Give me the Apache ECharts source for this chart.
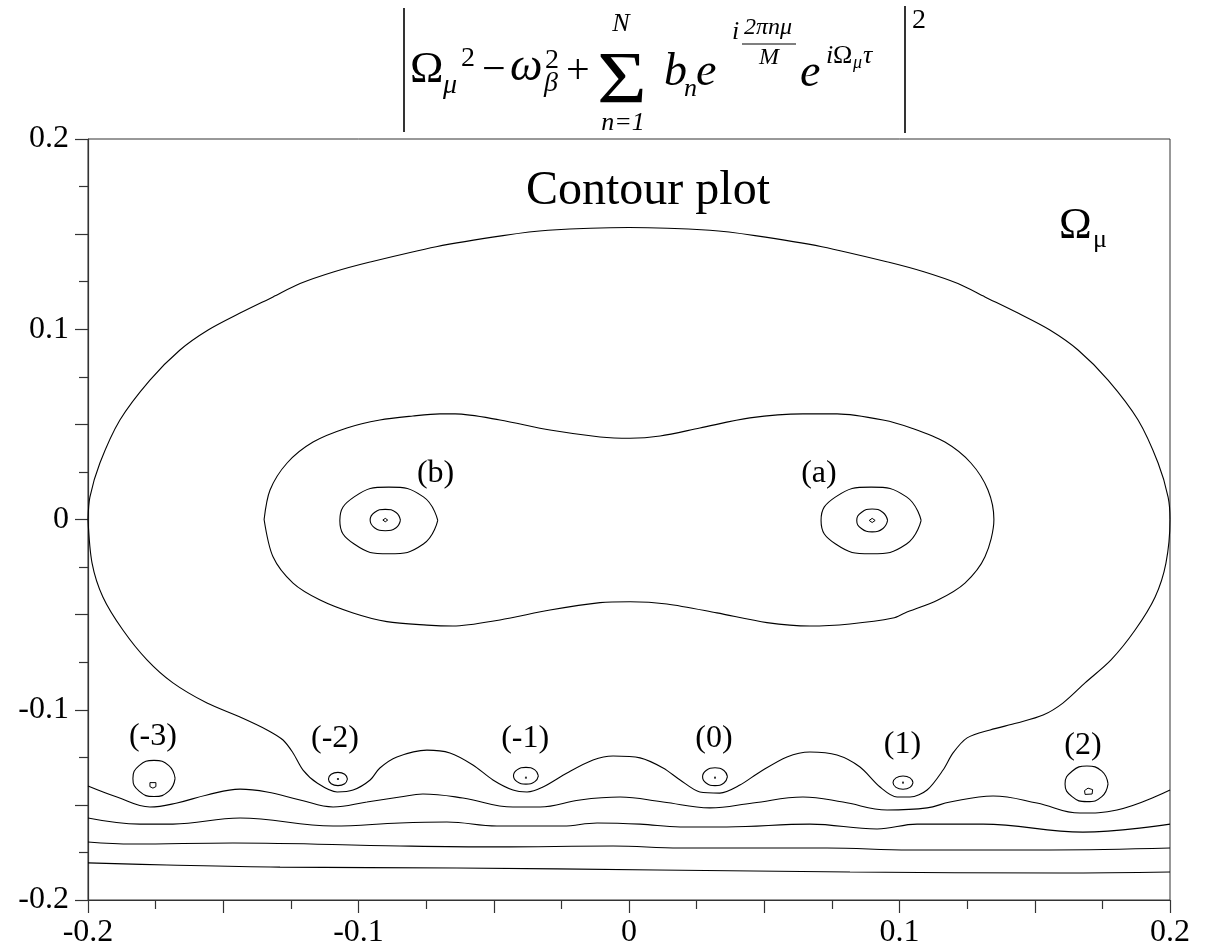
<!DOCTYPE html>
<html>
<head>
<meta charset="utf-8">
<script src="https://cdn.jsdelivr.net/npm/echarts@6/dist/echarts.min.js"></script>
<style>
html,body{margin:0;padding:0;background:#fff;}
#chart{width:1209px;height:949px;}
</style>
</head>
<body>
<div id="chart"></div>
<script>
// ---- axis ticks ----
const xTickValues = [-0.2, -0.1, 0, 0.1, 0.2];
const xTickLabels = ['-0.2', '-0.1', '0', '0.1', '0.2'];
const yTickValues = [-0.2, -0.1, 0, 0.1, 0.2];
const yTickLabels = ['-0.2', '-0.1', '0', '0.1', '0.2'];

// ---- contour lines [x, y] ----
const outerContour = [
[-0.2,0],[-0.1993,0.0118],[-0.1956,0.0297],[-0.1882,0.0523],[-0.1771,0.0733],[-0.1660,0.0891],
[-0.1556,0.0996],[-0.1438,0.1085],[-0.1316,0.1170],[-0.1216,0.1240],[-0.1090,0.1302],[-0.0961,0.1352],[-0.0713,0.1434],
[-0.0466,0.1492],[-0.0299,0.1520],[0,0.1535],[0.0299,0.1520],[0.0466,0.1492],[0.0713,0.1434],
[0.0961,0.1352],[0.1090,0.1302],[0.1216,0.1240],[0.1316,0.1170],[0.1438,0.1085],[0.1556,0.0996],[0.1660,0.0891],
[0.1771,0.0733],[0.1882,0.0523],[0.1956,0.0297],[0.1993,0.0118],[0.2,0],
[0.1985,-0.0229],[0.1945,-0.0407],[0.1871,-0.0581],[0.1782,-0.0738],[0.1686,-0.0859],[0.1604,-0.0965],
[0.1531,-0.1028],[0.1434,-0.1070],[0.1335,-0.1106],[0.1250,-0.1148],[0.1198,-0.1227],[0.1161,-0.1317],
[0.1102,-0.1422],[0.1039,-0.1459],[0.0991,-0.1459],[0.0928,-0.1406],[0.0854,-0.1301],[0.0769,-0.1238],
[0.0669,-0.1222],[0.0584,-0.1248],[0.0484,-0.1327],[0.0410,-0.1396],[0.0336,-0.1438],[0.0262,-0.1432],
[0.0189,-0.1369],[0.0126,-0.1306],[0.0041,-0.1253],[-0.0059,-0.1243],[-0.0133,-0.1264],[-0.0229,-0.1332],
[-0.0318,-0.1406],[-0.0377,-0.1432],[-0.0429,-0.1422],[-0.0503,-0.1369],[-0.0577,-0.1290],[-0.0662,-0.1227],
[-0.0747,-0.1212],[-0.0858,-0.1248],[-0.0921,-0.1306],[-0.0957,-0.1369],[-0.1020,-0.1422],[-0.1079,-0.1432],
[-0.1153,-0.1385],[-0.1205,-0.1317],[-0.1242,-0.1227],[-0.1279,-0.1159],[-0.1338,-0.1106],[-0.1438,-0.1038],
[-0.1560,-0.0965],[-0.1686,-0.0859],[-0.1782,-0.0738],[-0.1871,-0.0581],[-0.1945,-0.0407],[-0.1985,-0.0229],
[-0.2,0]
];
const peanutContour = [
[-0.1349,0],[-0.1327,0.0155],[-0.1264,0.0297],[-0.1168,0.0407],[-0.1043,0.0481],[-0.0921,0.0523],
[-0.0799,0.0544],[-0.0699,0.0555],[-0.0643,0.0555],[-0.0477,0.0523],[-0.0292,0.0470],[-0.0107,0.0434],
[0.0004,0.0427],[0.0115,0.0439],[0.0262,0.0481],[0.0447,0.0534],[0.0643,0.0555],[0.0769,0.0555],
[0.0939,0.0523],[0.1043,0.0481],[0.1168,0.0407],[0.1264,0.0297],[0.1327,0.0155],[0.1349,0],
[0.1316,-0.0196],[0.1242,-0.0334],[0.1142,-0.0423],[0.1020,-0.0491],[0.0976,-0.0518],[0.0817,-0.0549],
[0.0669,-0.0560],[0.0510,-0.0542],[0.0325,-0.0491],[0.0140,-0.0444],[0.0004,-0.0432],[-0.0107,-0.0437],
[-0.0292,-0.0476],[-0.0477,-0.0528],[-0.0651,-0.0560],[-0.0747,-0.0555],[-0.0895,-0.0537],[-0.1020,-0.0491],
[-0.1142,-0.0423],[-0.1242,-0.0334],[-0.1316,-0.0196],[-0.1349,0]
];
const lowLine2 = [
[-0.2,-0.1401],[-0.1893,-0.1459],[-0.1771,-0.1511],[-0.1671,-0.1490],[-0.1560,-0.1448],[-0.1438,-0.1417],
[-0.1338,-0.1432],[-0.1216,-0.1474],[-0.1094,-0.1511],[-0.0969,-0.1485],[-0.0847,-0.1459],[-0.0762,-0.1443],
[-0.0614,-0.1464],[-0.0429,-0.1511],[-0.0329,-0.1511],[-0.0181,-0.1474],[-0.0033,-0.1459],[0.0126,-0.1485],
[0.0299,-0.1516],[0.0458,-0.1490],[0.0643,-0.1459],[0.0791,-0.1485],[0.0954,-0.1527],[0.1102,-0.1516],
[0.1187,-0.1485],[0.1346,-0.1453],[0.1508,-0.1490],[0.1667,-0.1543],[0.1804,-0.1527],[0.2,-0.1422]
];
const lowLine3 = [
[-0.2,-0.1569],[-0.1808,-0.1601],[-0.1686,-0.1601],[-0.1438,-0.1569],[-0.1094,-0.1611],[-0.0847,-0.1595],
[-0.0673,-0.1590],[-0.0488,-0.1611],[-0.0244,-0.1611],[-0.0118,-0.1595],[0.0041,-0.1601],[0.0189,-0.1616],
[0.0362,-0.1616],[0.0669,-0.1601],[0.0917,-0.1627],[0.1065,-0.1601],[0.1309,-0.1601],[0.1678,-0.1643],
[0.2,-0.1601]
];
const lowLine4 = [
[-0.2,-0.1695],[-0.1834,-0.1706],[-0.1464,-0.1700],[-0.0847,-0.1716],[-0.0488,-0.1721],[-0.0059,-0.1716],
[0.0189,-0.1727],[0.0484,-0.1727],[0.0732,-0.1727],[0.1039,-0.1737],[0.1556,-0.1737],[0.2,-0.1727]
];
const lowLine5 = [
[-0.2,-0.1805],[-0.1708,-0.1816],[-0.1290,-0.1827],[-0.0636,-0.1832],[0.0104,-0.1842],[0.0817,-0.1853],
[0.1593,-0.1858],[0.2,-0.1853]
];
// closed rings around minima
const ringBMid = [[-0.0707,-0.0005],[-0.0760,0.0119],[-0.0888,0.0170],[-0.1016,0.0119],[-0.1069,-0.0005],[-0.1016,-0.0129],[-0.0888,-0.0180],[-0.0760,-0.0129],[-0.0707,-0.0005]];
const ringBIn = [[-0.0845,-0.0003],[-0.0861,0.0037],[-0.0901,0.0053],[-0.0941,0.0037],[-0.0957,-0.0003],[-0.0941,-0.0043],[-0.0901,-0.0059],[-0.0861,-0.0043],[-0.0845,-0.0003]];
const ringBDot = [[-0.0892,-0.0003],[-0.0901,0.0006],[-0.0910,-0.0003],[-0.0901,-0.0012],[-0.0892,-0.0003]];
const ringAMid = [[0.1080,-0.0005],[0.1026,0.0119],[0.0895,0.0170],[0.0764,0.0119],[0.0710,-0.0005],[0.0764,-0.0129],[0.0895,-0.0180],[0.1026,-0.0129],[0.1080,-0.0005]];
const ringAIn = [[0.0956,-0.0005],[0.0939,0.0037],[0.0899,0.0055],[0.0859,0.0037],[0.0842,-0.0005],[0.0859,-0.0047],[0.0899,-0.0065],[0.0939,-0.0047],[0.0956,-0.0005]];
const ringADot = [[0.0910,-0.0005],[0.0899,0.0006],[0.0888,-0.0005],[0.0899,-0.0016],[0.0910,-0.0005]];
const ringM3 = [[-0.1678,-0.1361],[-0.1701,-0.1294],[-0.1756,-0.1266],[-0.1811,-0.1294],[-0.1834,-0.1361],[-0.1811,-0.1428],[-0.1756,-0.1456],[-0.1701,-0.1428],[-0.1678,-0.1361]];
const ringM3In = [[-0.1771,-0.1383],[-0.1749,-0.1383],[-0.1749,-0.1404],[-0.1760,-0.1412],[-0.1771,-0.1404],[-0.1771,-0.1383]];
const ringM2 = [[-0.1041,-0.1364],[-0.1051,-0.1339],[-0.1076,-0.1329],[-0.1101,-0.1339],[-0.1111,-0.1364],[-0.1101,-0.1389],[-0.1076,-0.1399],[-0.1051,-0.1389],[-0.1041,-0.1364]];
const ringM1 = [[-0.0335,-0.1347],[-0.0348,-0.1316],[-0.0381,-0.1303],[-0.0414,-0.1316],[-0.0427,-0.1347],[-0.0414,-0.1378],[-0.0381,-0.1391],[-0.0348,-0.1378],[-0.0335,-0.1347]];
const ringZero = [[0.0364,-0.1352],[0.0351,-0.1319],[0.0318,-0.1305],[0.0285,-0.1319],[0.0272,-0.1352],[0.0285,-0.1385],[0.0318,-0.1399],[0.0351,-0.1385],[0.0364,-0.1352]];
const ringP1 = [[0.1050,-0.1383],[0.1039,-0.1358],[0.1013,-0.1348],[0.0987,-0.1358],[0.0976,-0.1383],[0.0987,-0.1408],[0.1013,-0.1418],[0.1039,-0.1408],[0.1050,-0.1383]];
const ringP2 = [[0.1771,-0.1390],[0.1748,-0.1323],[0.1693,-0.1296],[0.1638,-0.1323],[0.1612,-0.1390],[0.1638,-0.1457],[0.1693,-0.1483],[0.1748,-0.1457],[0.1771,-0.1390]];
const ringP2In = [[0.1684,-0.1425],[0.1697,-0.1412],[0.1714,-0.1420],[0.1712,-0.1443],[0.1686,-0.1445],[0.1684,-0.1425]];
// tiny centre dots
const dotPoints = [[-0.1076,-0.1364],[-0.0381,-0.1357],[0.0318,-0.1357],[0.1013,-0.1383]];

// ---- annotations ----
const annotText = ['(b)', '(a)', '(-3)', '(-2)', '(-1)', '(0)', '(1)', '(2)'];
const annotX = [-0.0715, 0.0702, -0.1760, -0.1087, -0.0384, 0.0314, 0.1011, 0.1678];
const annotY = [0.0239, 0.0241, -0.1143, -0.1154, -0.1154, -0.1154, -0.1182, -0.1191];

const SERIF = '"Liberation Serif", "DejaVu Serif", serif';
const chart = echarts.init(document.getElementById('chart'));

function lineSeries(name, data, smooth, width) {
  return {
    name: name, type: 'line', data: data, showSymbol: false, symbol: 'none',
    smooth: smooth, clip: false, silent: true,
    lineStyle: { color: '#000', width: width || 1.1 }
  };
}
function tickFmt(vals, labels) {
  return function (v) {
    for (let i = 0; i < vals.length; i++) if (Math.abs(vals[i] - v) < 1e-9) return labels[i];
    return '';
  };
}

// text pieces (graphic text)
function t(text, x, y, size, italic, align, extra) {
  return Object.assign({
    type: 'text', x: x, y: y, silent: true,
    style: { text: text, fill: '#000', font: (italic ? 'italic ' : '') + size + 'px ' + SERIF,
             align: align || 'left', verticalAlign: 'middle' }
  }, extra || {});
}
const graphics = [
  { type: 'line', shape: { x1: 404, y1: 8, x2: 404, y2: 132 }, style: { stroke: '#000', lineWidth: 1.6 } },
  t('Ω', 410, 70, 45, false),
  t('μ', 443, 86, 28, true),
  t('2', 461, 59, 28, false),
  t('−', 482, 71, 42, false),
  t('ω', 510, 68, 46, true),
  t('2', 545, 61, 28, false),
  t('β', 544, 84, 28, true),
  t('+', 566, 72, 42, false),
  t('Σ', 597, 84, 73, false, 'left', { scaleX: 1.17, scaleY: 1 }),
  t('N', 621, 24, 26, true, 'center'),
  t('n=1', 623, 123, 26, true, 'center'),
  t('b', 664, 73, 46, true),
  t('n', 684, 89, 26, true),
  t('e', 696, 73, 46, true),
  t('i', 732, 32, 26, true),
  t('2πnμ', 744, 28, 24, true),
  { type: 'line', shape: { x1: 742, y1: 44, x2: 796, y2: 44 }, style: { stroke: '#000', lineWidth: 1.2 } },
  t('M', 769, 58, 24, true, 'center'),
  t('e', 800, 74, 46, true),
  t('i', 826, 56, 26, true),
  t('Ω', 833, 56, 26, false),
  t('μ', 853, 63, 18, true),
  t('τ', 863, 56, 26, true),
  { type: 'line', shape: { x1: 905, y1: 6, x2: 905, y2: 133 }, style: { stroke: '#000', lineWidth: 1.6 } },
  t('2', 912, 21, 28, false),
  // chart title and corner label
  t('Contour plot', 648, 191, 48, false, 'center'),
  t('Ω', 1059, 226, 44, false),
  t('μ', 1093, 240, 26, false)
];

const series = [
  lineSeries('outer', outerContour, 0.3),
  lineSeries('peanut', peanutContour, 0.3),
  lineSeries('low2', lowLine2, 0.4),
  lineSeries('low3', lowLine3, 0.4),
  lineSeries('low4', lowLine4, 0.4),
  lineSeries('low5', lowLine5, 0.4),
  lineSeries('ringBMid', ringBMid, 0.5),
  lineSeries('ringBIn', ringBIn, 0.5),
  lineSeries('ringBDot', ringBDot, 0, 1),
  lineSeries('ringAMid', ringAMid, 0.5),
  lineSeries('ringAIn', ringAIn, 0.5),
  lineSeries('ringADot', ringADot, 0, 1),
  lineSeries('ringM3', ringM3, 0.5),
  lineSeries('ringM3In', ringM3In, 0, 1),
  lineSeries('ringM2', ringM2, 0.5),
  lineSeries('ringM1', ringM1, 0.5),
  lineSeries('ringZero', ringZero, 0.5),
  lineSeries('ringP1', ringP1, 0.5),
  lineSeries('ringP2', ringP2, 0.5),
  lineSeries('ringP2In', ringP2In, 0, 1),
  {
    name: 'dots', type: 'scatter', data: dotPoints, symbol: 'rect', symbolSize: 2, silent: true,
    itemStyle: { color: '#000' }
  }
];

chart.setOption({
  animation: false,
  backgroundColor: '#fff',
  grid: { left: 88, right: 39, top: 139, bottom: 49, show: true, borderColor: '#333', borderWidth: 1, backgroundColor: 'transparent' },
  xAxis: {
    type: 'value', min: -0.2, max: 0.2, interval: 0.05,
    axisLine: { show: true, onZero: false, lineStyle: { color: '#333', width: 1.2 } },
    axisTick: { show: true, length: 13, lineStyle: { color: '#333', width: 1.2 } },
    minorTick: { show: true, splitNumber: 2, length: 9, lineStyle: { color: '#333', width: 1.2 } },
    splitLine: { show: false },
    axisLabel: { formatter: tickFmt(xTickValues, xTickLabels), color: '#000', fontSize: 32, fontFamily: SERIF, margin: 17, showMinLabel: true, showMaxLabel: true }
  },
  yAxis: {
    type: 'value', min: -0.2, max: 0.2, interval: 0.05,
    axisLine: { show: true, onZero: false, lineStyle: { color: '#333', width: 1.2 } },
    axisTick: { show: true, length: 13, lineStyle: { color: '#333', width: 1.2 } },
    minorTick: { show: true, splitNumber: 2, length: 9, lineStyle: { color: '#333', width: 1.2 } },
    splitLine: { show: false },
    axisLabel: { formatter: tickFmt(yTickValues, yTickLabels), color: '#000', fontSize: 32, fontFamily: SERIF, margin: 19, showMinLabel: true, showMaxLabel: true }
  },
  series: series
});

// annotation labels placed through the chart's own scales
const labelGraphics = annotText.map(function (s, i) {
  const p = chart.convertToPixel({ gridIndex: 0 }, [annotX[i], annotY[i]]);
  return t(s, p[0], p[1], 32, false, 'center');
});
chart.setOption({ graphic: graphics.concat(labelGraphics) });
</script>
</body>
</html>
